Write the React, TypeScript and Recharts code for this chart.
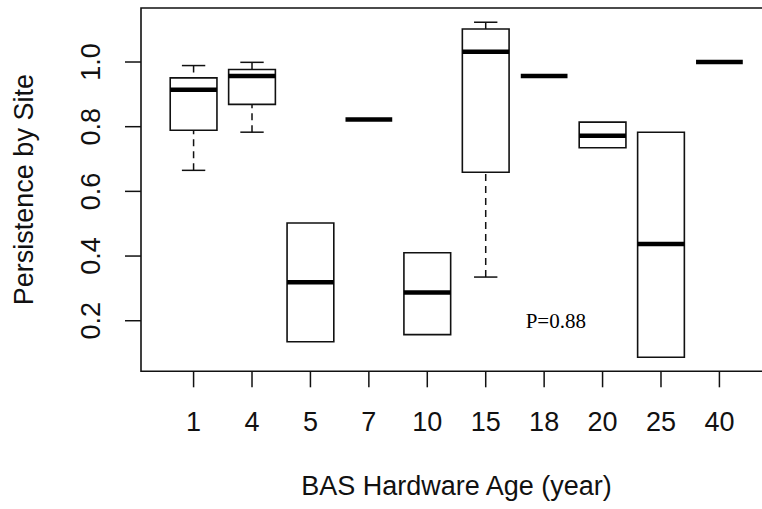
import React from "react";
import {
  ComposedChart,
  XAxis,
  YAxis,
  Scatter,
  ReferenceArea,
  ReferenceLine,
  ReferenceDot,
} from "recharts";

// ---- data ----
const categories = ["1", "4", "5", "7", "10", "15", "18", "20", "25", "40"];
const whiskerLow = [0.665, 0.783, 0.135, 0.822, 0.157, 0.335, 0.957, 0.735, 0.087, 1.0];
const q1 = [0.789, 0.869, 0.135, 0.822, 0.157, 0.659, 0.957, 0.735, 0.087, 1.0];
const medians = [0.914, 0.957, 0.319, 0.822, 0.287, 1.032, 0.957, 0.772, 0.437, 1.0];
const q3 = [0.951, 0.977, 0.502, 0.822, 0.41, 1.102, 0.957, 0.814, 0.783, 1.0];
const whiskerHigh = [0.989, 0.999, 0.502, 0.822, 0.41, 1.123, 0.957, 0.814, 0.783, 1.0];
const yTicks = [0.2, 0.4, 0.6, 0.8, 1.0];
const xTitle = "BAS Hardware Age (year)";
const yTitle = "Persistence by Site";
const annotation = "P=0.88";
const annotationPos = { x: 7.2, y: 0.2 };

// ---- layout / style ----
const X_DOMAIN: [number, number] = [0.1, 10.9];
const Y_DOMAIN: [number, number] = [0.0436, 1.167];
const BOX_HALF = 0.4;
const STAPLE_HALF = 0.2;
const SANS = "'Liberation Sans', Arial, sans-serif";
const INK = "#111";
const FONT = 27;

const xPositions = categories.map((_, i) => i + 1);
const tableData = categories.map((c, i) => ({ x: i + 1, y: medians[i], name: c }));

const XTick = (props: any) => {
  const { x, y, payload } = props;
  const label = categories[Math.round(payload.value) - 1] ?? "";
  return (
    <text x={x} y={y} dy="0.71em" textAnchor="middle" fontFamily={SANS} fontSize={FONT} fill={INK}>
      {label}
    </text>
  );
};

const YTick = (props: any) => {
  const { x, y, payload } = props;
  return (
    <text
      x={x}
      y={y}
      transform={`rotate(-90, ${x}, ${y})`}
      textAnchor="middle"
      fontFamily={SANS}
      fontSize={FONT}
      fill={INK}
    >
      {Number(payload.value).toFixed(1)}
    </text>
  );
};

const XTitle = (props: any) => {
  const vb = props.viewBox || { x: 141, y: 371.3, width: 631, height: 137.7 };
  return (
    <text
      x={vb.x + vb.width / 2}
      y={vb.y + 123.5}
      textAnchor="middle"
      fontFamily={SANS}
      fontSize={FONT}
      fill={INK}
    >
      {xTitle}
    </text>
  );
};

const YTitle = (props: any) => {
  const vb = props.viewBox || { x: 0, y: 8, width: 141, height: 363.3 };
  const cx = vb.x + 33;
  const cy = vb.y + vb.height / 2;
  return (
    <text
      x={cx}
      y={cy}
      transform={`rotate(-90, ${cx}, ${cy})`}
      textAnchor="middle"
      fontFamily={SANS}
      fontSize={FONT}
      fill={INK}
    >
      {yTitle}
    </text>
  );
};

const AnnotationShape = (props: any) => (
  <text
    x={props.cx}
    y={props.cy}
    dy="0.35em"
    textAnchor="middle"
    fontFamily="'Liberation Serif', 'Times New Roman', serif"
    fontSize={21}
    fill="#000"
  >
    {annotation}
  </text>
);

export default function App() {
  const lineColor = "#111";
  const boxStroke = 1.6;
  return (
    <div
      style={{
        position: "fixed",
        left: 0,
        top: 0,
        width: 762,
        height: 509,
        overflow: "hidden",
        background: "#fff",
      }}
    >
      <ComposedChart
        width={772}
        height={509}
        data={tableData}
        margin={{ top: 8, right: 0, bottom: 0, left: 0 }}
      >
        <XAxis
          dataKey="x"
          type="number"
          domain={X_DOMAIN}
          allowDataOverflow
          ticks={xPositions}
          interval={0}
          axisLine={false}
          tickLine={{ stroke: lineColor, strokeWidth: 1.5 }}
          tickSize={16}
          tickMargin={25}
          height={137.7}
          tick={<XTick />}
          label={{ value: xTitle, content: <XTitle /> }}
        />
        <YAxis
          dataKey="y"
          type="number"
          domain={Y_DOMAIN}
          allowDataOverflow
          ticks={yTicks}
          interval={0}
          axisLine={false}
          tickLine={{ stroke: lineColor, strokeWidth: 1.5 }}
          tickSize={16}
          tickMargin={25}
          width={141}
          tick={<YTick />}
          label={{ value: yTitle, content: <YTitle /> }}
        />
        {/* plot frame */}
        <ReferenceArea
          x1={X_DOMAIN[0]}
          x2={X_DOMAIN[1]}
          y1={Y_DOMAIN[0]}
          y2={Y_DOMAIN[1]}
          fill="none"
          fillOpacity={0}
          stroke={lineColor}
          strokeWidth={1.6}
          ifOverflow="visible"
        />
        {xPositions.map((x, i) => (
          <ReferenceArea
            key={`box-${i}`}
            x1={x - BOX_HALF}
            x2={x + BOX_HALF}
            y1={q1[i]}
            y2={q3[i]}
            fill="#fff"
            fillOpacity={1}
            stroke={lineColor}
            strokeWidth={boxStroke}
            ifOverflow="visible"
          />
        ))}
        {xPositions.map((x, i) =>
          whiskerLow[i] < q1[i] ? (
            <ReferenceLine
              key={`wl-${i}`}
              segment={[
                { x, y: whiskerLow[i] },
                { x, y: q1[i] },
              ]}
              stroke={lineColor}
              strokeWidth={1.5}
              strokeDasharray="7 5"
              ifOverflow="visible"
            />
          ) : null
        )}
        {xPositions.map((x, i) =>
          whiskerHigh[i] > q3[i] ? (
            <ReferenceLine
              key={`wh-${i}`}
              segment={[
                { x, y: whiskerHigh[i] },
                { x, y: q3[i] },
              ]}
              stroke={lineColor}
              strokeWidth={1.5}
              strokeDasharray="7 5"
              ifOverflow="visible"
            />
          ) : null
        )}
        {xPositions.map((x, i) =>
          whiskerLow[i] < q1[i] ? (
            <ReferenceLine
              key={`sl-${i}`}
              segment={[
                { x: x - STAPLE_HALF, y: whiskerLow[i] },
                { x: x + STAPLE_HALF, y: whiskerLow[i] },
              ]}
              stroke={lineColor}
              strokeWidth={1.5}
              ifOverflow="visible"
            />
          ) : null
        )}
        {xPositions.map((x, i) =>
          whiskerHigh[i] > q3[i] ? (
            <ReferenceLine
              key={`sh-${i}`}
              segment={[
                { x: x - STAPLE_HALF, y: whiskerHigh[i] },
                { x: x + STAPLE_HALF, y: whiskerHigh[i] },
              ]}
              stroke={lineColor}
              strokeWidth={1.5}
              ifOverflow="visible"
            />
          ) : null
        )}
        {xPositions.map((x, i) => (
          <ReferenceLine
            key={`med-${i}`}
            segment={[
              { x: x - BOX_HALF, y: medians[i] },
              { x: x + BOX_HALF, y: medians[i] },
            ]}
            stroke="#000"
            strokeWidth={4.5}
            ifOverflow="visible"
          />
        ))}
        <ReferenceDot
          x={annotationPos.x}
          y={annotationPos.y}
          r={1}
          ifOverflow="visible"
          shape={<AnnotationShape />}
        />
        <Scatter
          dataKey="y"
          isAnimationActive={false}
          shape={() => <g />}
          legendType="none"
        />
      </ComposedChart>
    </div>
  );
}
